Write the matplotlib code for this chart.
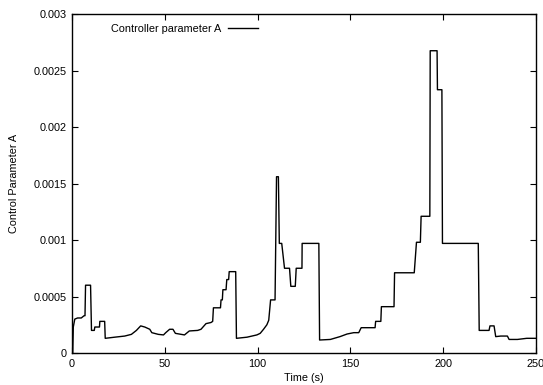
import matplotlib.pyplot as plt
import numpy as np

plt.rcParams["font.family"] = ["Liberation Sans", "DejaVu Sans"]

# (time, parameter)
time_s = [
    0.0, 0.4, 0.7, 1.5, 3.0, 5.0, 6.5, 7.0, 7.3, 10.0, 10.5, 12.0, 12.3, 14.8, 15.0,
    17.6, 17.9, 23.0, 28.4, 32.0, 34.7, 37.0, 39.2, 41.9, 43.0, 46.5, 49.3,
    50.5, 52.6, 54.4, 55.7, 60.6, 63.2, 67.7, 69.5, 72.2, 74.9, 75.8, 76.2,
    80.0, 80.3, 81.0, 81.3, 83.0, 83.4, 84.4, 84.7, 88.2, 88.6, 94.3, 99.6,
    101.4, 103.2, 105.0, 106.0, 107.0, 109.4, 110.2, 111.2, 111.7, 113.0, 114.5,
    117.2, 117.9, 120.3, 120.8, 123.9, 124.0, 133.0, 133.4, 139.2, 144.4, 148.2,
    151.8, 154.5, 155.8, 163.3, 163.6, 166.4, 166.7, 173.5, 173.8, 184.4, 185.6,
    187.7, 188.1, 192.8, 193.0, 196.7, 196.9, 199.3, 199.6, 218.9, 219.4, 224.7,
    225.2, 227.4, 228.3, 231.0, 234.6, 235.5, 240.0, 245.0, 250.0,
]
param_a = [
    0.0, 0.0, 0.00023, 0.0003, 0.00031, 0.00031, 0.00033, 0.00033, 0.0006, 0.0006,
    0.0002, 0.0002, 0.00023, 0.00023, 0.00028, 0.00028, 0.00013, 0.00014, 0.00015,
    0.000165, 0.0002, 0.00024, 0.00023, 0.00021, 0.00018, 0.000165, 0.00016,
    0.00018, 0.00021, 0.00021, 0.000174, 0.00016, 0.000195, 0.0002, 0.00021,
    0.00026, 0.00027, 0.00028, 0.0004, 0.0004, 0.00047, 0.00047, 0.00056,
    0.00056, 0.00065, 0.00065, 0.00072, 0.00072, 0.00013, 0.00014, 0.00016,
    0.000174, 0.00021, 0.00025, 0.00029, 0.00047, 0.00047, 0.00156, 0.00156,
    0.00097, 0.00097, 0.00075, 0.00075, 0.00059, 0.00059, 0.00075, 0.00075,
    0.00097, 0.00097, 0.000115, 0.00012, 0.000145, 0.000168, 0.00018, 0.00018,
    0.000224, 0.000224, 0.00028, 0.00028, 0.00041, 0.00041, 0.00071, 0.00071,
    0.00098, 0.00098, 0.00121, 0.00121, 0.002675, 0.002675, 0.00233, 0.00233,
    0.00097, 0.00097, 0.0002, 0.0002, 0.00024, 0.00024, 0.000145, 0.00015,
    0.00015, 0.00012, 0.00012, 0.00013, 0.00013,
]
y_ticks = [0, 0.0005, 0.001, 0.0015, 0.002, 0.0025, 0.003]
y_labels = ["0", "0.0005", "0.001", "0.0015", "0.002", "0.0025", "0.003"]
x_ticks = [0, 50, 100, 150, 200, 250]

fig = plt.figure(figsize=(5.43, 3.85), dpi=100)
ax = fig.add_axes([0.1326, 0.0831, 0.8545, 0.8805])

ax.plot(time_s, param_a, color="black", lw=1.0, label="Controller parameter A")

ax.set_xlim(0, 250)
ax.set_ylim(0, 0.003)
ax.set_xticks(x_ticks)
ax.set_yticks(y_ticks)
ax.set_yticklabels(y_labels)
ax.tick_params(direction="in", top=True, right=True, length=4, width=0.8,
               labelsize=7.8, pad=4)
for s in ax.spines.values():
    s.set_linewidth(1.0)

ax.set_xlabel("Time (s)", fontsize=7.8, labelpad=3)
ax.set_ylabel("Control Parameter A", fontsize=7.8, labelpad=10)

ax.legend(loc="upper left", bbox_to_anchor=(0.063, 1.0), frameon=False,
          markerfirst=False, fontsize=7.8, handlelength=2.8, handletextpad=0.6)

fig.savefig("out.png", dpi=100)
